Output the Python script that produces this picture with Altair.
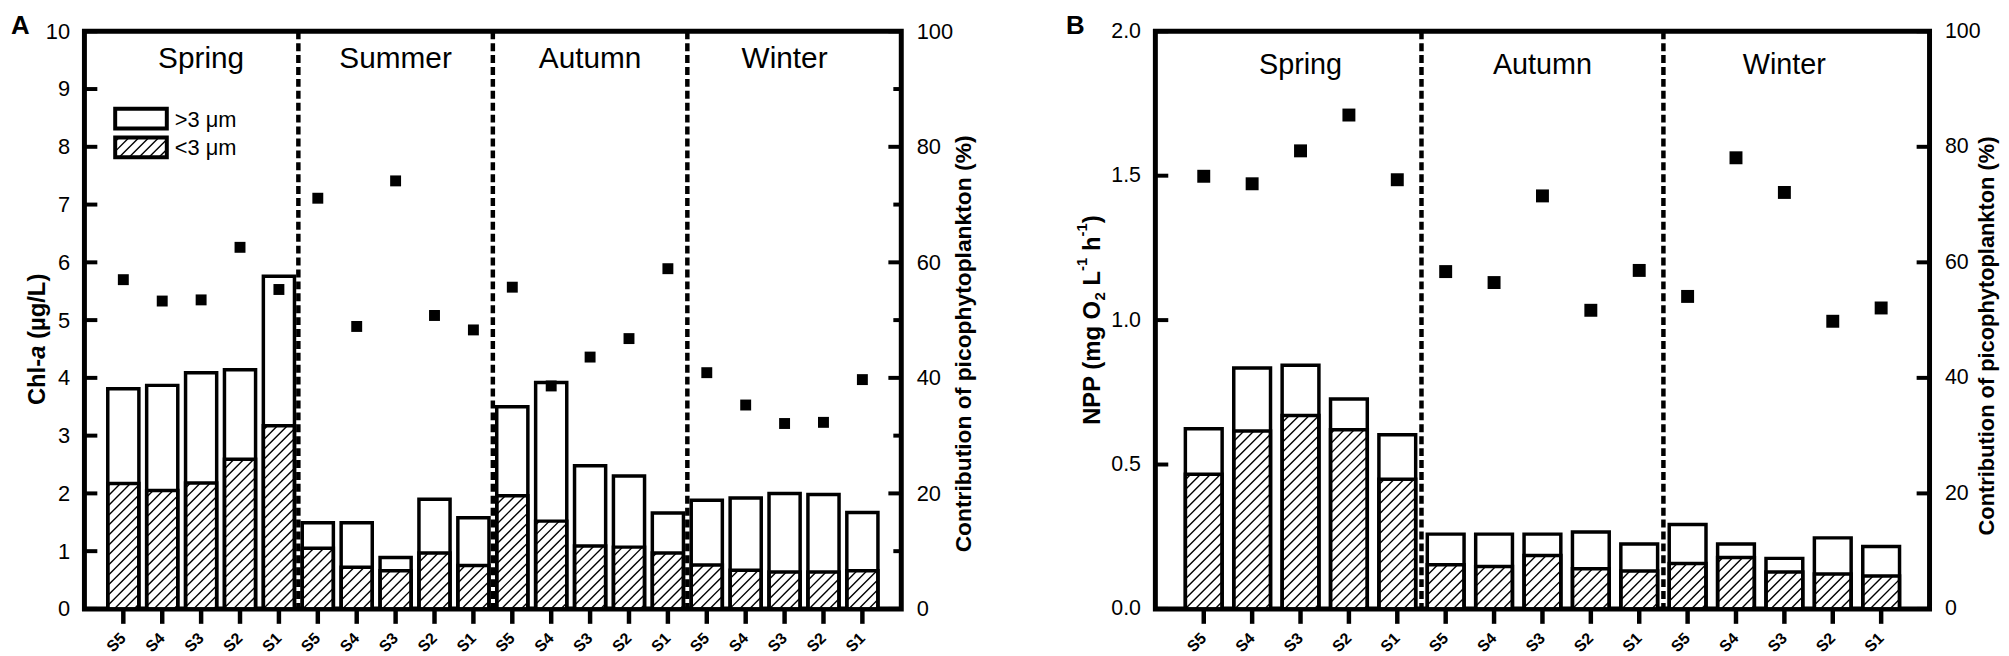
import altair as alt
import pandas as pd
import numpy as np

# ---------------- data ----------------
STATIONS = ["S5", "S4", "S3", "S2", "S1"]
SEASONS_A = ["Spring", "Summer", "Autumn", "Winter"]
SEASONS_B = ["Spring", "Autumn", "Winter"]

# Panel A: Chl-a (ug/L) total, <3 um fraction, contribution (%)
CHL_TOTAL = [3.81, 3.87, 4.09, 4.14, 5.76,
             1.49, 1.49, 0.89, 1.90, 1.58,
             3.50, 3.92, 2.48, 2.30, 1.66,
             1.88, 1.92, 2.00, 1.98, 1.67]
CHL_PICO = [2.17, 2.05, 2.18, 2.59, 3.17,
            1.05, 0.72, 0.66, 0.97, 0.75,
            1.96, 1.52, 1.09, 1.07, 0.97,
            0.76, 0.67, 0.64, 0.64, 0.66]
CHL_PCT = [57.0, 53.3, 53.5, 62.6, 55.3,
           71.1, 48.9, 74.1, 50.8, 48.3,
           55.7, 38.6, 43.6, 46.8, 58.9,
           40.9, 35.3, 32.1, 32.3, 39.7]

# Panel B: NPP total, <3 um fraction, contribution (%)
NPP_TOTAL = [0.624, 0.834, 0.844, 0.727, 0.603,
             0.259, 0.259, 0.259, 0.266, 0.225,
             0.292, 0.225, 0.175, 0.246, 0.216]
NPP_PICO = [0.466, 0.616, 0.670, 0.620, 0.449,
            0.153, 0.147, 0.185, 0.139, 0.131,
            0.157, 0.178, 0.128, 0.121, 0.114]
NPP_PCT = [74.9, 73.6, 79.3, 85.5, 74.3,
           58.4, 56.5, 71.5, 51.7, 58.6,
           54.1, 78.1, 72.1, 49.8, 52.1]

A_LEFT_TICKS = [0, 1, 2, 3, 4, 5, 6, 7, 8, 9, 10]
A_RIGHT_MAJOR = [0, 20, 40, 60, 80, 100]
A_RIGHT_MINOR = [10, 30, 50, 70, 90]
B_LEFT_TICKS = [0.0, 0.5, 1.0, 1.5, 2.0]
B_RIGHT_MAJOR = [0, 20, 40, 60, 80, 100]
B_RIGHT_MINOR = []

FONT = "Liberation Sans"
ONE = pd.DataFrame({"k": [0]})

# Arial/Liberation Sans Bold advance widths (per 1000 em)
BOLD_W = {" ": 278, "(": 333, ")": 333, "-": 333, "/": 278, "%": 889,
          "1": 556, "2": 556, "A": 722, "C": 722, "L": 611, "N": 722,
          "O": 778, "P": 667, "a": 556, "g": 611, "h": 611, "l": 278,
          "m": 889, "\u00b5": 611}


def text_width(s, size):
    return sum(BOLD_W.get(ch, 556) for ch in s) / 1000.0 * size


def rotated_title(pieces, cx, cy):
    """Text pieces written bottom-to-top (angle 270), centred on cy."""
    total = sum(text_width(t, sz) for t, sz, it, sh in pieces)
    y = cy + total / 2.0
    charts = []
    for t, sz, italic, shift in pieces:
        lead = len(t) - len(t.lstrip(" "))
        y -= lead * BOLD_W[" "] / 1000.0 * sz
        body = t.lstrip(" ")
        charts.append(
            alt.Chart(ONE).mark_text(
                text=body, angle=270, align="left", baseline="alphabetic",
                font=FONT, fontSize=sz, fontWeight="bold",
                fontStyle="italic" if italic else "normal", color="black",
            ).encode(x=alt.value(cx + shift), y=alt.value(y))
        )
        y -= text_width(body, sz)
    return charts


def hatch_px(L, R, B, T, s):
    """45-degree '/' hatch segments inside the pixel rect (Y measured upward)."""
    out = []
    c = np.floor((L - T) / s) * s
    while c <= R - B:
        x_lo = max(L, B + c)
        x_hi = min(R, T + c)
        if x_hi - x_lo > 0.5:
            out.append((x_lo, x_lo - c, x_hi, x_hi - c))
        c += s
    return out


def panel(letter, total, pico, pct, seasons, W, H, ymax, left_ticks, left_fmt,
          right_major, right_minor, tick_fs, season_fs, season_y, sq_size, half,
          title_pieces, title_cx, title_cy, rtitle_dx, rtitle_cy, rtitle_fs,
          letter_dx, legend):
    n = len(total)
    xmin, xmax = -1, n
    ppx = W / float(xmax - xmin)
    ppy = H / float(ymax)
    xs = alt.Scale(domain=[xmin, xmax], nice=False, zero=False)
    ys = alt.Scale(domain=[0, ymax], nice=False, zero=False)
    ps = alt.Scale(domain=[0, 100], nice=False, zero=False)

    labels = [s for _ in seasons for s in STATIONS]
    df = pd.DataFrame({"i": list(range(n)), "total": total, "pico": pico,
                       "pct": pct, "lab": labels})
    df["x0"] = df["i"] - half
    df["x1"] = df["i"] + half
    df["zero"] = 0.0

    yaxis = alt.Axis(values=left_ticks, format=left_fmt, title=None, grid=False,
                     domain=False, ticks=False, labelPadding=15, labelFont=FONT,
                     labelFontSize=tick_fs, labelColor="black", labelOverlap=False)
    raxis = alt.Axis(orient="right", values=right_major, format="d", title=None,
                     grid=False, domain=False, ticks=False, labelPadding=15,
                     labelFont=FONT, labelFontSize=tick_fs, labelColor="black",
                     labelOverlap=False)

    base = alt.Chart(df)
    tot = base.mark_rect(fill="white", stroke="black", strokeWidth=3.5).encode(
        x=alt.X("x0:Q", scale=xs, axis=None), x2="x1:Q",
        y=alt.Y("total:Q", scale=ys, axis=yaxis), y2="zero:Q")

    # hatching of the <3 um part, computed from the data values
    segs = []
    for x0, x1, p in zip(df["x0"], df["x1"], df["pico"]):
        for (a, b, c, d) in hatch_px((x0 - xmin) * ppx, (x1 - xmin) * ppx, 0.0, p * ppy, 10.0):
            segs.append({"hx1": a / ppx + xmin, "hy1": b / ppy,
                         "hx2": c / ppx + xmin, "hy2": d / ppy})
    if legend:
        # legend swatch (pixel box 31..83 x 107..127 from top-left of plot)
        for (a, b, c, d) in hatch_px(31, 83, H - 127, H - 107, 10.0):
            segs.append({"hx1": a / ppx + xmin, "hy1": b / ppy,
                         "hx2": c / ppx + xmin, "hy2": d / ppy})
    hdf = pd.DataFrame(segs)
    hat = alt.Chart(hdf).mark_rule(color="black", strokeWidth=1.4).encode(
        x=alt.X("hx1:Q", scale=xs, axis=None), x2="hx2:Q",
        y=alt.Y("hy1:Q", scale=ys, axis=yaxis), y2="hy2:Q")

    pic = base.mark_rect(fill="transparent", stroke="black", strokeWidth=3.5).encode(
        x=alt.X("x0:Q", scale=xs, axis=None), x2="x1:Q",
        y=alt.Y("pico:Q", scale=ys, axis=yaxis), y2="zero:Q")

    lt = alt.Chart(pd.DataFrame({"v": left_ticks})).mark_rule(
        color="black", strokeWidth=4).encode(
        y=alt.Y("v:Q", scale=ys, axis=yaxis), x=alt.value(0), x2=alt.value(13))

    # x ticks (outward) and rotated station labels
    xt = base.mark_rule(color="black", strokeWidth=4.5).encode(
        x=alt.X("i:Q", scale=xs, axis=None), y=alt.value(H), y2=alt.value(H + 15))
    xl = base.mark_text(font=FONT, fontSize=16, fontWeight="bold", angle=315,
                        align="right", baseline="middle", color="black").encode(
        x=alt.X("i:Q", scale=xs, axis=None), y=alt.value(H + 27), text="lab:N")

    div = alt.Chart(pd.DataFrame({"b": [5 * k + 4.5 for k in range(len(seasons) - 1)]})).mark_rule(
        color="black", strokeWidth=4.5, strokeDash=[8, 4]).encode(
        x=alt.X("b:Q", scale=xs, axis=None), y=alt.value(0), y2=alt.value(H))

    sea = alt.Chart(pd.DataFrame({"s": seasons, "c": [5 * k + 2 for k in range(len(seasons))]})).mark_text(
        font=FONT, fontSize=season_fs, baseline="alphabetic", align="center",
        color="black").encode(
        x=alt.X("c:Q", scale=xs, axis=None), y=alt.value(season_y), text="s:N")

    extras = []
    extras += rotated_title(title_pieces, title_cx, title_cy)
    extras.append(alt.Chart(ONE).mark_text(
        text="Contribution of picophytoplankton (%)", angle=270, align="center",
        baseline="alphabetic", font=FONT, fontSize=rtitle_fs, fontWeight="bold",
        color="black").encode(x=alt.value(W + rtitle_dx), y=alt.value(rtitle_cy)))
    extras.append(alt.Chart(ONE).mark_text(
        text=letter, align="left", baseline="alphabetic", font=FONT, fontSize=26,
        fontWeight="bold", color="black").encode(x=alt.value(letter_dx), y=alt.value(3)))

    if legend:
        extras.append(alt.Chart(ONE).mark_rect(fill="white", stroke="black", strokeWidth=4).encode(
            x=alt.value(31), x2=alt.value(83), y=alt.value(78), y2=alt.value(98)))
        extras.append(alt.Chart(ONE).mark_rect(fill="transparent", stroke="black", strokeWidth=4).encode(
            x=alt.value(31), x2=alt.value(83), y=alt.value(107), y2=alt.value(127)))
        extras.append(alt.Chart(ONE).mark_text(
            text=">3 \u03bcm", align="left", baseline="middle", font=FONT, fontSize=22,
            color="black").encode(x=alt.value(91), y=alt.value(89)))
        extras.append(alt.Chart(ONE).mark_text(
            text="<3 \u03bcm", align="left", baseline="middle", font=FONT, fontSize=22,
            color="black").encode(x=alt.value(91), y=alt.value(118)))

    left = alt.layer(tot, hat, pic, lt, xt, xl, div, sea, *extras)

    sq = base.mark_square(size=sq_size, color="black", filled=True, opacity=1).encode(
        x=alt.X("i:Q", scale=xs, axis=None),
        y=alt.Y("pct:Q", scale=ps, axis=raxis))
    rmaj = alt.Chart(pd.DataFrame({"v": right_major})).mark_rule(
        color="black", strokeWidth=4).encode(
        y=alt.Y("v:Q", scale=ps, axis=raxis), x=alt.value(W - 13), x2=alt.value(W))
    rlayers = [sq, rmaj]
    if right_minor:
        rmin = alt.Chart(pd.DataFrame({"v": right_minor})).mark_rule(
            color="black", strokeWidth=4).encode(
            y=alt.Y("v:Q", scale=ps, axis=raxis), x=alt.value(W - 8), x2=alt.value(W))
        rlayers.append(rmin)
    right = alt.layer(*rlayers)

    return alt.layer(left, right).resolve_scale(y="independent").properties(width=W, height=H)


pa = panel("A", CHL_TOTAL, CHL_PICO, CHL_PCT, SEASONS_A, 823, 582, 10,
           A_LEFT_TICKS, "d", A_RIGHT_MAJOR, A_RIGHT_MINOR,
           tick_fs=22, season_fs=30, season_y=37, sq_size=121, half=0.4,
           title_pieces=[("Chl-", 24, False, 0), ("a", 24, True, 0), (" (\u00b5g/L)", 24, False, 0)],
           title_cx=-40, title_cy=310, rtitle_dx=70, rtitle_cy=315, rtitle_fs=23,
           letter_dx=-74, legend=True)

pb = panel("B", NPP_TOTAL, NPP_PICO, NPP_PCT, SEASONS_B, 780, 582, 2.0,
           B_LEFT_TICKS, ".1f", B_RIGHT_MAJOR, B_RIGHT_MINOR,
           tick_fs=21.5, season_fs=29, season_y=43, sq_size=170, half=0.38,
           title_pieces=[("NPP (mg O", 24, False, 0), ("2", 15, False, 5), (" L", 24, False, 0),
                         ("-1", 15, False, -13), (" h", 24, False, 0), ("-1", 15, False, -13),
                         (")", 24, False, 0)],
           title_cx=-56, title_cy=291, rtitle_dx=65, rtitle_cy=307, rtitle_fs=22,
           letter_dx=-90, legend=False)

chart = alt.hconcat(pa, pb, spacing=85).properties(
    padding={"left": 0, "right": 0, "top": 0, "bottom": 0}
).configure(font=FONT).configure_view(stroke="black", strokeWidth=5)

chart.save("out.html", embed_options={"renderer": "svg", "actions": False})
